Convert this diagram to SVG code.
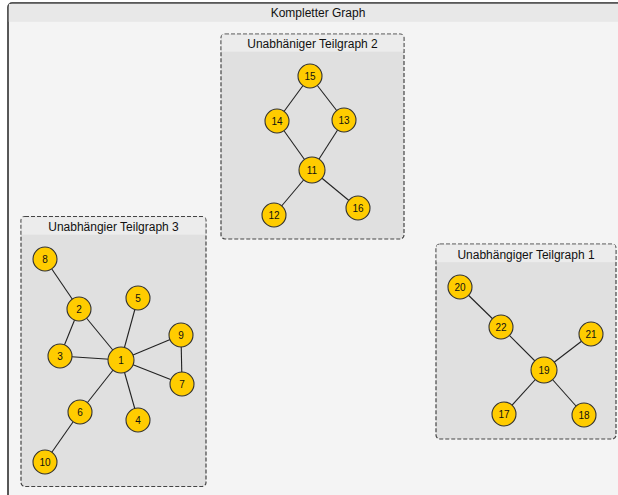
<svg xmlns="http://www.w3.org/2000/svg" width="618" height="495" viewBox="0 0 618 495">
<style>
.outer{fill:#f4f4f4;stroke:#222;stroke-width:1.5}
.ohead{fill:#e8e8e8}
.sub{fill:#e0e0e0;stroke:#444;stroke-width:1.2;stroke-dasharray:4 2}
.shead{fill:#ececec}
.title{font-family:"Liberation Sans",Arial,sans-serif;font-size:12px;fill:#111;text-anchor:middle}
.edge{stroke:#222;stroke-width:1.1;fill:none}
.node circle{fill:#ffcc00;stroke:#333;stroke-width:1.1}
.node text{font-family:"Liberation Sans",Arial,sans-serif;font-size:10px;fill:#111;text-anchor:middle;dominant-baseline:central}
</style>
<rect width="618" height="495" fill="#ffffff"/>
<g id="outer">
<rect class="outer" x="8" y="3" width="640" height="520" rx="4"/>
<rect class="ohead" x="8.8" y="3.8" width="610" height="18"/>
<text class="title" x="318" y="17">Kompletter Graph</text>
</g>
<g id="sg2">
<rect class="sub" x="221" y="34" width="183" height="205" rx="4"/>
<rect class="shead" x="221.7" y="34.7" width="181.6" height="17"/>
<text class="title" x="312.5" y="48">Unabhäniger Teilgraph 2</text>
</g>
<g id="sg3">
<rect class="sub" x="21" y="216.5" width="185" height="270" rx="4"/>
<rect class="shead" x="21.7" y="217.2" width="183.6" height="17.5"/>
<text class="title" x="113.5" y="231">Unabhängier Teilgraph 3</text>
</g>
<g id="sg1">
<rect class="sub" x="436" y="244" width="180" height="195" rx="4"/>
<rect class="shead" x="436.7" y="244.7" width="178.6" height="17.5"/>
<text class="title" x="526" y="258.5">Unabhängiger Teilgraph 1</text>
</g>
<g id="edges">
<line class="edge" x1="310" y1="76" x2="277" y2="121"/>
<line class="edge" x1="310" y1="76" x2="344" y2="120"/>
<line class="edge" x1="277" y1="121" x2="312" y2="170"/>
<line class="edge" x1="344" y1="120" x2="312" y2="170"/>
<line class="edge" x1="312" y1="170" x2="274" y2="215"/>
<line class="edge" x1="312" y1="170" x2="358" y2="208"/>
<line class="edge" x1="45" y1="259" x2="79" y2="309"/>
<line class="edge" x1="79" y1="309" x2="60" y2="356"/>
<line class="edge" x1="79" y1="309" x2="121" y2="360"/>
<line class="edge" x1="60" y1="356" x2="121" y2="360"/>
<line class="edge" x1="138" y1="298" x2="121" y2="360"/>
<line class="edge" x1="181" y1="335" x2="121" y2="360"/>
<line class="edge" x1="182" y1="384" x2="121" y2="360"/>
<line class="edge" x1="181" y1="335" x2="182" y2="384"/>
<line class="edge" x1="138" y1="420" x2="121" y2="360"/>
<line class="edge" x1="80" y1="412" x2="121" y2="360"/>
<line class="edge" x1="80" y1="412" x2="45" y2="462"/>
<line class="edge" x1="460" y1="287" x2="501" y2="327"/>
<line class="edge" x1="501" y1="327" x2="544" y2="370"/>
<line class="edge" x1="591" y1="334" x2="544" y2="370"/>
<line class="edge" x1="544" y1="370" x2="504" y2="414"/>
<line class="edge" x1="544" y1="370" x2="584" y2="415"/>
</g>
<g id="n15" class="node"><circle cx="310" cy="76" r="12"/><text x="310" y="76">15</text></g>
<g id="n14" class="node"><circle cx="277" cy="121" r="12"/><text x="277" y="121">14</text></g>
<g id="n13" class="node"><circle cx="344" cy="120" r="12"/><text x="344" y="120">13</text></g>
<g id="n11" class="node"><circle cx="312" cy="170" r="13"/><text x="312" y="170">11</text></g>
<g id="n12" class="node"><circle cx="274" cy="215" r="12"/><text x="274" y="215">12</text></g>
<g id="n16" class="node"><circle cx="358" cy="208" r="12"/><text x="358" y="208">16</text></g>
<g id="n8" class="node"><circle cx="45" cy="259" r="12"/><text x="45" y="259">8</text></g>
<g id="n2" class="node"><circle cx="79" cy="309" r="12"/><text x="79" y="309">2</text></g>
<g id="n5" class="node"><circle cx="138" cy="298" r="12"/><text x="138" y="298">5</text></g>
<g id="n9" class="node"><circle cx="181" cy="335" r="12"/><text x="181" y="335">9</text></g>
<g id="n3" class="node"><circle cx="60" cy="356" r="12"/><text x="60" y="356">3</text></g>
<g id="n1" class="node"><circle cx="121" cy="360" r="13"/><text x="121" y="360">1</text></g>
<g id="n7" class="node"><circle cx="182" cy="384" r="12"/><text x="182" y="384">7</text></g>
<g id="n6" class="node"><circle cx="80" cy="412" r="12"/><text x="80" y="412">6</text></g>
<g id="n4" class="node"><circle cx="138" cy="420" r="12"/><text x="138" y="420">4</text></g>
<g id="n10" class="node"><circle cx="45" cy="462" r="12"/><text x="45" y="462">10</text></g>
<g id="n20" class="node"><circle cx="460" cy="287" r="12"/><text x="460" y="287">20</text></g>
<g id="n22" class="node"><circle cx="501" cy="327" r="12"/><text x="501" y="327">22</text></g>
<g id="n21" class="node"><circle cx="591" cy="334" r="12"/><text x="591" y="334">21</text></g>
<g id="n19" class="node"><circle cx="544" cy="370" r="13"/><text x="544" y="370">19</text></g>
<g id="n17" class="node"><circle cx="504" cy="414" r="12"/><text x="504" y="414">17</text></g>
<g id="n18" class="node"><circle cx="584" cy="415" r="12"/><text x="584" y="415">18</text></g>
</svg>
